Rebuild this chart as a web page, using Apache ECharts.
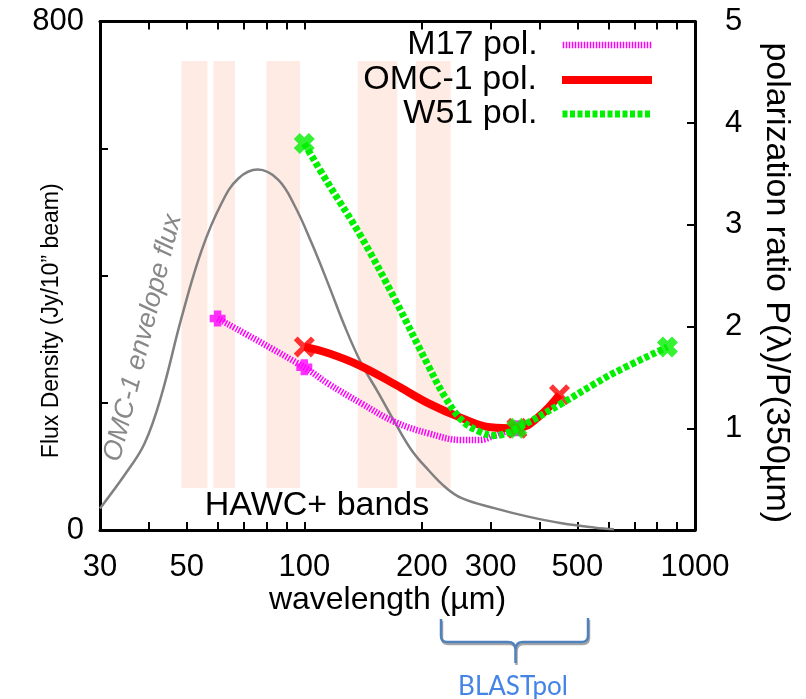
<!DOCTYPE html>
<html><head><meta charset="utf-8">
<script src="https://cdn.jsdelivr.net/npm/echarts@6/dist/echarts.min.js"></script>
<style>html,body{margin:0;padding:0;background:#fff}#c{width:806px;height:699px}</style>
</head><body><div id="c"></div>
<script>
// ---------- data ----------
const xTickLabels = [30, 50, 100, 200, 300, 500, 1000];
const xTicks = [30, 40, 50, 60, 70, 80, 90, 100, 200, 300, 400, 500, 600, 700, 800, 900, 1000];
const fluxAxisLabels = [0, 800];
const ratioAxisLabels = [1, 2, 3, 4, 5];

const hawcBandStart = [48.5, 58.5, 80, 137, 193];
const hawcBandEnd = [56.5, 66.5, 97.5, 173, 237];
const hawcBandFlux = [66, 738];

const envelopeWavelength = [30, 35, 39, 43, 48.6, 54.6, 61.4, 67.8, 76, 85.8, 94.7, 104.5, 115, 127, 140, 155, 171, 188, 208, 229, 253, 308, 374, 456, 555, 620];
const envelopeFlux = [34, 90, 136, 210, 336, 440, 514, 553, 567, 551, 509, 451, 388, 320, 262, 215, 168, 126, 94, 68, 50, 34, 21, 10.5, 3.6, 1];

const m17CurveWavelength = [60, 100, 115, 140, 170, 208, 253, 280, 308, 335, 350];
const m17CurveRatio = [2.08, 1.60, 1.44, 1.245, 1.065, 0.95, 0.885, 0.885, 0.93, 0.98, 1.0];
const m17PointWavelength = [60, 100, 350];
const m17PointRatio = [2.08, 1.60, 1.0];

const omcCurveWavelength = [100, 115, 140, 171, 208, 253, 300, 350, 397, 450];
const omcCurveRatio = [1.80, 1.74, 1.61, 1.43, 1.245, 1.10, 1.01, 1.0, 1.11, 1.33];
const omcPointWavelength = [100, 350, 450];
const omcPointRatio = [1.80, 1.0, 1.33];

const w51CurveWavelength = [100, 115, 140, 171, 208, 229, 253, 280, 308, 350, 456, 555, 617, 850];
const w51CurveRatio = [3.80, 3.41, 2.88, 2.26, 1.61, 1.31, 1.08, 0.97, 0.93, 1.0, 1.245, 1.44, 1.54, 1.80];
const w51PointWavelength = [100, 350, 850];
const w51PointRatio = [3.80, 1.0, 1.80];

const legendNames = ['M17 pol.', 'OMC-1 pol.', 'W51 pol.'];

// ---------- build ----------
const lg = Math.log10;
const pairs = (xs, ys) => xs.map((x, i) => [lg(x), ys[i]]);
const FONT = "'Liberation Sans', Arial, sans-serif";

const plusPath = 'path://M-1.4,-3 L1.4,-3 L1.4,-1.4 L3,-1.4 L3,1.4 L1.4,1.4 L1.4,3 L-1.4,3 L-1.4,1.4 L-3,1.4 L-3,-1.4 L-1.4,-1.4 Z';
const xPath = 'path://M-3,-1.9 L-1.9,-3 L0,-1.1 L1.9,-3 L3,-1.9 L1.1,0 L3,1.9 L1.9,3 L0,1.1 L-1.9,3 L-3,1.9 L-1.1,0 Z';
const fatXPath = 'path://M-3,-1.3 L-1.3,-3 L0,-1.7 L1.3,-3 L3,-1.3 L1.7,0 L3,1.3 L1.3,3 L0,1.7 L-1.3,3 L-3,1.3 L-1.7,0 Z';

const M17C = '#ff00ff', OMCC = '#ff0000', W51C = '#00f000';

const tickStyle = {color: '#000', width: 2};
const xCommon = {
  type: 'value', min: lg(30), max: lg(1000),
  splitLine: {show: false},
  axisLine: {show: true, onZero: false, lineStyle: {color: '#000', width: 3}},
  axisTick: {show: true, inside: true, length: 8, lineStyle: tickStyle, customValues: xTicks.map(lg)}
};

// curly brace decoration under the x axis
function brace(dx, dy, color, z) {
  const st = {stroke: color, lineWidth: 2.5, fill: null};
  const L = (x1, y1, x2, y2) => ({type: 'line', z: z, shape: {x1: x1 + dx, y1: y1 + dy, x2: x2 + dx, y2: y2 + dy}, style: st});
  const Q = (x1, y1, cx, cy, x2, y2) => ({type: 'bezierCurve', z: z, shape: {x1: x1 + dx, y1: y1 + dy, cpx1: cx + dx, cpy1: cy + dy, x2: x2 + dx, y2: y2 + dy}, style: st});
  return [
    L(441, 619, 441, 636), Q(441, 636, 441, 642, 447, 642), L(447, 642, 508, 642),
    Q(508, 642, 515, 642, 515.5, 649), L(515.5, 649, 515.5, 663),
    Q(515.5, 649, 516, 642, 523, 642), L(523, 642, 582, 642),
    Q(582, 642, 588, 642, 588, 636), L(588, 636, 588, 618)
  ];
}

const chart = echarts.init(document.getElementById('c'), null, {renderer: 'canvas'});
chart.setOption({
  animation: false,
  backgroundColor: '#fff',
  grid: {left: 100, right: 111, top: 21.5, bottom: 169, containLabel: false, outerBoundsMode: 'none'},
  xAxis: [
    Object.assign({}, xCommon, {
      position: 'bottom',
      axisLabel: {customValues: xTickLabels.map(lg), formatter: v => String(Math.round(Math.pow(10, v))),
        fontSize: 31, fontFamily: FONT, color: '#000', margin: 22},
      name: 'wavelength (µm)', nameLocation: 'middle', nameGap: 54, nameMoveOverlap: false,
      nameTextStyle: {fontSize: 32, fontFamily: FONT, color: '#000', padding: [0, 20, 0, 0]}
    }),
    Object.assign({}, xCommon, {position: 'top', axisLabel: {show: false}})
  ],
  yAxis: [
    {
      type: 'value', position: 'left', min: 0, max: 800, interval: 200,
      splitLine: {show: false},
      axisLine: {show: true, onZero: false, lineStyle: {color: '#000', width: 3}},
      axisTick: {show: true, inside: true, length: 8, lineStyle: tickStyle},
      axisLabel: {formatter: v => fluxAxisLabels.includes(v) ? String(v) : '', fontSize: 31, fontFamily: FONT, color: '#000', margin: 16},
      name: 'Flux Density (Jy/10” beam)', nameLocation: 'middle', nameRotate: 90, nameGap: 37, nameMoveOverlap: false,
      nameTextStyle: {fontSize: 23, fontFamily: FONT, color: '#000', padding: [0, 90, 0, 0]}
    },
    {
      type: 'value', position: 'right', min: 0, max: 5, interval: 1,
      splitLine: {show: false},
      axisLine: {show: true, onZero: false, lineStyle: {color: '#000', width: 3}},
      axisTick: {show: true, inside: true, length: 8, lineStyle: tickStyle},
      axisLabel: {formatter: v => ratioAxisLabels.includes(v) ? String(v) : '', fontSize: 31, fontFamily: FONT, color: '#000', margin: 30},
      name: 'polarization ratio P(λ)/P(350µm)', nameLocation: 'middle', nameRotate: -90, nameGap: 64, nameMoveOverlap: false,
      nameTextStyle: {fontSize: 34, fontFamily: FONT, color: '#000', padding: [0, 0, 0, 14]}
    }
  ],
  legend: legendNames.map((name, i) => ({
    data: [name], right: 150, top: [28, 63, 97][i], orient: 'vertical', align: 'right', padding: 0,
    itemWidth: 90, itemHeight: 10, selectedMode: false,
    textStyle: {fontSize: 34, fontFamily: FONT, color: '#000', padding: [0, 20, 0, 0]},
    lineStyle: {width: 'inherit'}, itemStyle: {opacity: 0}
  })),
  series: [
    {
      type: 'line', name: 'bands', data: [], xAxisIndex: 0, yAxisIndex: 0, z: 1, silent: true,
      markArea: {silent: true, itemStyle: {color: '#fdebe4'},
        data: hawcBandStart.map((s, i) => [{coord: [lg(s), hawcBandFlux[0]]}, {coord: [lg(hawcBandEnd[i]), hawcBandFlux[1]]}])}
    },
    {
      type: 'line', name: 'OMC-1 envelope flux', data: pairs(envelopeWavelength, envelopeFlux),
      xAxisIndex: 0, yAxisIndex: 0, smooth: 0.4, symbol: 'none', z: 2,
      lineStyle: {color: '#808080', width: 2.5}
    },
    {
      type: 'line', name: 'M17 pol.', data: pairs(m17CurveWavelength, m17CurveRatio),
      xAxisIndex: 0, yAxisIndex: 1, smooth: 0.4, symbol: 'none', z: 3, color: M17C,
      lineStyle: {color: M17C, width: 6.5, type: [1.5, 1.5]}
    },
    {
      type: 'scatter', name: 'M17 points', data: pairs(m17PointWavelength, m17PointRatio),
      xAxisIndex: 0, yAxisIndex: 1, symbol: plusPath, symbolSize: 16, z: 3, itemStyle: {color: M17C}
    },
    {
      type: 'line', name: 'OMC-1 pol.', data: pairs(omcCurveWavelength, omcCurveRatio),
      xAxisIndex: 0, yAxisIndex: 1, smooth: 0.4, symbol: 'none', z: 4, color: OMCC,
      lineStyle: {color: OMCC, width: 8}
    },
    {
      type: 'scatter', name: 'OMC-1 points', data: pairs(omcPointWavelength, omcPointRatio),
      xAxisIndex: 0, yAxisIndex: 1, symbol: xPath, symbolSize: 21, z: 4, itemStyle: {color: OMCC}
    },
    {
      type: 'line', name: 'W51 pol.', data: pairs(w51CurveWavelength, w51CurveRatio),
      xAxisIndex: 0, yAxisIndex: 1, smooth: 0.4, symbol: 'none', z: 5, color: W51C,
      lineStyle: {color: W51C, width: 7, type: [5, 2.5]}
    },
    {
      type: 'scatter', name: 'W51 points', data: pairs(w51PointWavelength, w51PointRatio),
      xAxisIndex: 0, yAxisIndex: 1, symbol: fatXPath, symbolSize: 21, z: 5, itemStyle: {color: W51C}
    }
  ],
  graphic: [
    {type: 'text', x: 317, y: 506, z: 100, style: {text: 'HAWC+ bands', font: '34px ' + FONT, fill: '#000', align: 'center', verticalAlign: 'middle'}},
    {type: 'text', x: 143, y: 338, rotation: 76 * Math.PI / 180, z: 100,
      style: {text: 'OMC-1 envelope flux', font: 'italic 27px ' + FONT, fill: '#888', align: 'center', verticalAlign: 'middle'}},
    ...brace(1, 2, '#a6a6a6', 99),
    ...brace(0, 0, '#4f81bd', 100),
    {type: 'text', x: 513, y: 687, z: 100, style: {text: 'BLASTpol', font: '26px Lato, ' + FONT, fill: '#4683e6', align: 'center', verticalAlign: 'middle'}}
  ]
});
</script></body></html>
